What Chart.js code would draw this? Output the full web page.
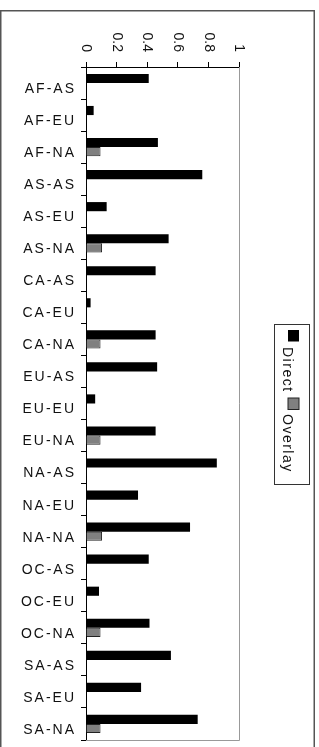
<!DOCTYPE html>
<html>
<head>
<meta charset="utf-8">
<script src="https://cdn.jsdelivr.net/npm/chart.js@4"></script>
<style>
  body { margin: 0; background: #fff; }
  canvas { display: block; }
</style>
</head>
<body>
<canvas id="chart" width="319" height="747"></canvas>
<script>
const categories = [
  'AF-AS', 'AF-EU', 'AF-NA', 'AS-AS', 'AS-EU', 'AS-NA', 'CA-AS',
  'CA-EU', 'CA-NA', 'EU-AS', 'EU-EU', 'EU-NA', 'NA-AS', 'NA-EU',
  'NA-NA', 'OC-AS', 'OC-EU', 'OC-NA', 'SA-AS', 'SA-EU', 'SA-NA',
];
const direct = [0.41, 0.05, 0.47, 0.76, 0.135, 0.54, 0.455, 0.03, 0.455, 0.465, 0.06,
  0.455, 0.855, 0.34, 0.68, 0.41, 0.085, 0.415, 0.555, 0.36, 0.73];
const overlay = [0, 0, 0.095, 0.005, 0.005, 0.105, 0, 0, 0.095, 0, 0,
  0.095, 0.005, 0.005, 0.105, 0, 0, 0.095, 0, 0, 0.095];
const xTicks = [0, 0.2, 0.4, 0.6, 0.8, 1];
const xTickLabels = ['0', '0.2', '0.4', '0.6', '0.8', '1'];
const seriesNames = ['Direct', 'Overlay'];

const FONT = '14px "Liberation Sans", Arial, sans-serif';

// frame, plot border, axis labels and rotated legend
const decor = {
  id: 'decor',
  afterDraw(chart) {
    const ctx = chart.ctx;
    const area = chart.chartArea;
    const x = chart.scales.x;
    const y = chart.scales.y;
    ctx.save();

    // outer frame
    ctx.strokeStyle = '#555';
    ctx.lineWidth = 1.5;
    ctx.strokeRect(0.75, 10.75, 313.5, 800);

    // plot border right/bottom
    ctx.strokeStyle = '#999';
    ctx.lineWidth = 1;
    ctx.beginPath();
    ctx.moveTo(area.right + 0.5, area.top);
    ctx.lineTo(area.right + 0.5, area.bottom + 0.5);
    ctx.lineTo(area.left, area.bottom + 0.5);
    ctx.stroke();

    ctx.fillStyle = '#111';
    ctx.font = FONT;

    // category labels, sitting a little below the band centre
    ctx.letterSpacing = '2px';
    ctx.textAlign = 'right';
    ctx.textBaseline = 'middle';
    categories.forEach((c, i) => {
      ctx.fillText(c, area.left - 10, y.getPixelForValue(i) + 6);
    });

    // x tick labels, turned clockwise
    ctx.letterSpacing = '0px';
    xTicks.forEach((v, i) => {
      ctx.save();
      ctx.translate(x.getPixelForValue(v), 52);
      ctx.rotate(Math.PI / 2);
      ctx.fillText(xTickLabels[i], 0, 0);
      ctx.restore();
    });

    // legend box
    ctx.strokeStyle = '#333';
    ctx.lineWidth = 1;
    ctx.strokeRect(274.5, 324.5, 35, 160);
    ctx.translate(293.5, 324);
    ctx.rotate(Math.PI / 2);
    ctx.letterSpacing = '1.5px';
    ctx.textAlign = 'left';
    ctx.textBaseline = 'alphabetic';
    ctx.fillStyle = '#000';
    ctx.fillRect(6, -5.5, 11.5, 11);
    ctx.fillStyle = '#111';
    ctx.fillText(seriesNames[0], 23, 11);
    ctx.fillStyle = '#808080';
    ctx.fillRect(74, -5.5, 11.5, 11);
    ctx.strokeStyle = '#222';
    ctx.strokeRect(74, -5.5, 11.5, 11);
    ctx.fillStyle = '#111';
    ctx.fillText(seriesNames[1], 90, 11);
    ctx.restore();
  },
};

new Chart(document.getElementById('chart'), {
  type: 'bar',
  data: {
    labels: categories,
    datasets: [
      {
        label: seriesNames[0],
        data: direct,
        backgroundColor: '#000',
        borderWidth: 0,
      },
      {
        label: seriesNames[1],
        data: overlay,
        backgroundColor: '#808080',
        borderColor: '#222',
        borderWidth: 1,
      },
    ],
  },
  options: {
    indexAxis: 'y',
    responsive: false,
    animation: false,
    layout: { padding: { left: 0, right: 80, top: 0, bottom: 7 } },
    datasets: { bar: { categoryPercentage: 0.57, barPercentage: 1 } },
    plugins: { legend: { display: false }, tooltip: { enabled: false } },
    scales: {
      x: {
        position: 'top',
        min: 0,
        max: 1,
        afterBuildTicks(scale) {
          scale.ticks = xTicks.map(v => ({ value: v }));
        },
        afterFit(scale) { scale.height = 67; },
        ticks: { display: false },
        grid: { drawOnChartArea: false, tickLength: 5, color: '#000' },
        border: { color: '#000', width: 1 },
      },
      y: {
        afterFit(scale) { scale.width = 86; },
        ticks: { display: false, autoSkip: false },
        grid: { drawOnChartArea: false, tickLength: 5, color: '#000', offset: true },
        border: { color: '#000', width: 1 },
      },
    },
  },
  plugins: [decor],
});
</script>
</body>
</html>
